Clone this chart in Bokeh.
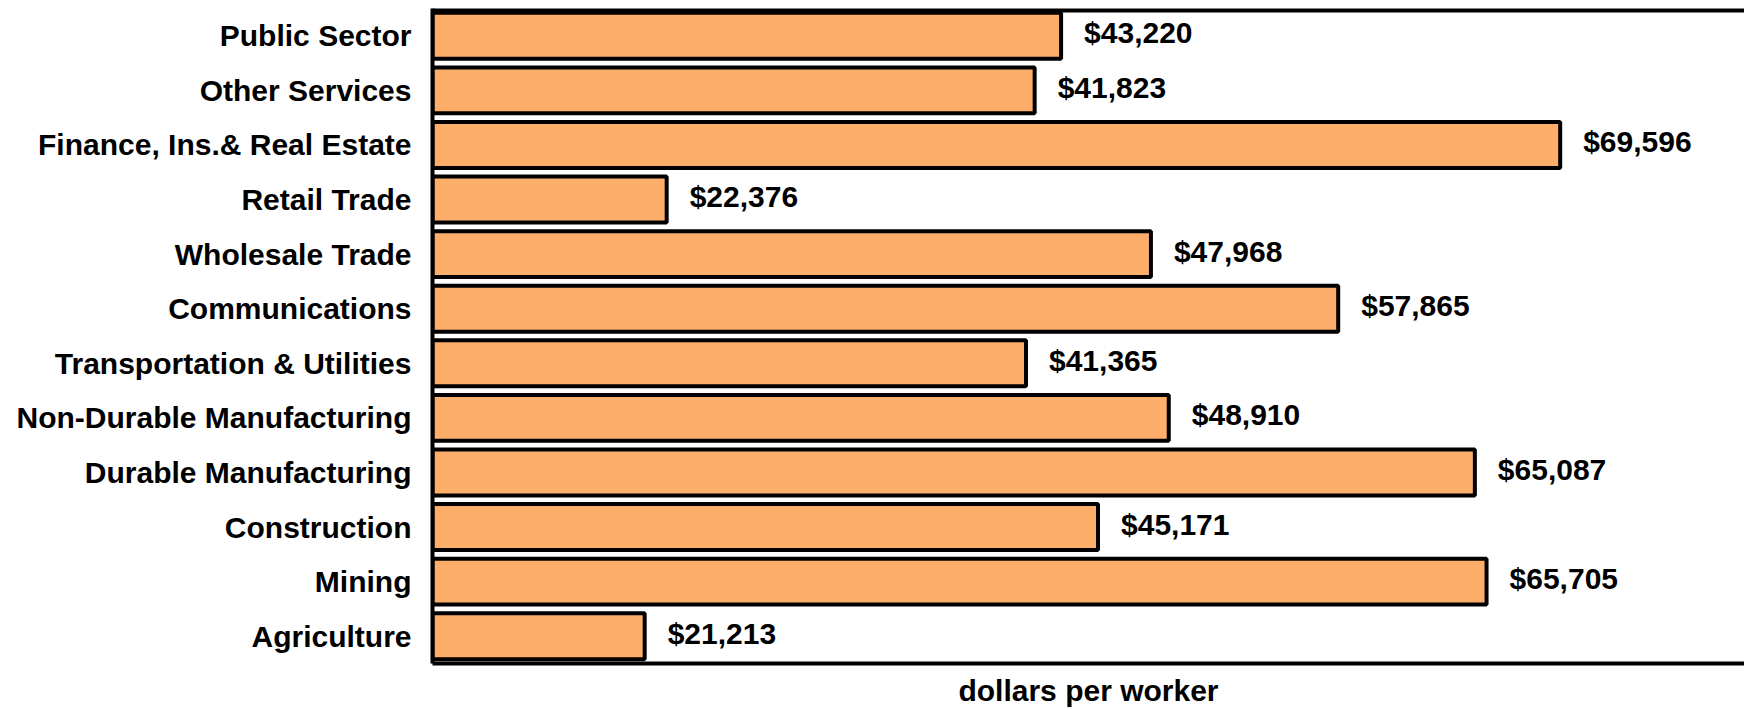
from bokeh.plotting import figure
from bokeh.models import ColumnDataSource, FactorRange, Range1d, Span
from bokeh.core.properties import value
from bokeh.embed import file_html
from bokeh.resources import INLINE

categories = ["Public Sector", "Other Services", "Finance, Ins.& Real Estate",
              "Retail Trade", "Wholesale Trade", "Communications",
              "Transportation & Utilities", "Non-Durable Manufacturing",
              "Durable Manufacturing", "Construction", "Mining", "Agriculture"]
wages = [43220, 41823, 69596, 22376, 47968, 57865, 41365, 48910, 65087, 45171, 65705, 21213]
x_start = 10000
x_end = 79337
axis_title = "dollars per worker"

labels = ["${:,}".format(v) for v in wages]
src = ColumnDataSource(dict(cat=categories, val=wages, lab=labels))

FONT = "Liberation Sans"

p = figure(width=1744, height=709, output_backend="svg", toolbar_location=None,
           y_range=FactorRange(*categories[::-1], range_padding=0),
           x_range=Range1d(x_start, x_end),
           min_border_left=432, min_border_right=0, min_border_top=8, min_border_bottom=46)
p.outline_line_color = None
p.background_fill_color = "white"
p.border_fill_color = "white"
p.grid.visible = False

p.hbar(y="cat", right="val", left=0, height=0.84, source=src,
       fill_color="#FDAE6B", line_color="black", line_width=4)

p.text(x="val", y="cat", text="lab", source=src, x_offset=23, y_offset=-3,
       text_font=value(FONT), text_font_style="bold", text_font_size="30px",
       text_baseline="middle", text_align="left", text_color="black")

# top frame line
p.add_layout(Span(location=len(categories), dimension="width", line_color="black", line_width=8))

ya = p.yaxis[0]
ya.axis_line_width = 4
ya.axis_line_color = "black"
ya.major_tick_line_color = None
ya.minor_tick_line_color = None
ya.major_label_standoff = 15
ya.major_label_text_font = FONT
ya.major_label_text_font_style = "bold"
ya.major_label_text_font_size = "30px"
ya.major_label_text_color = "black"

xa = p.xaxis[0]
xa.ticker = []
xa.axis_line_width = 4
xa.axis_line_color = "black"
xa.major_tick_line_color = None
xa.minor_tick_line_color = None
xa.major_label_text_font_size = "0px"
xa.axis_label = axis_title
xa.axis_label_text_font = FONT
xa.axis_label_text_font_style = "bold"
xa.axis_label_text_font_size = "30px"
xa.axis_label_text_color = "black"
xa.axis_label_standoff = 10

open("out.html", "w").write(file_html(p, INLINE))
